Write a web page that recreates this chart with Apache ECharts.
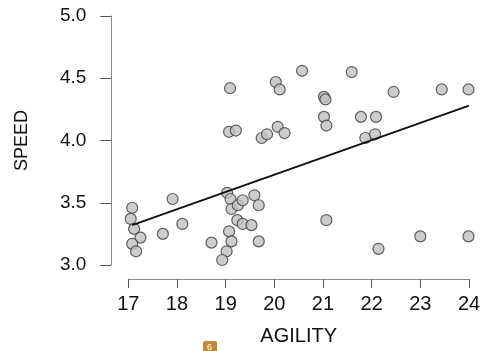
<!DOCTYPE html>
<html><head><meta charset="utf-8">
<script src="https://cdn.jsdelivr.net/npm/echarts@6/dist/echarts.min.js"></script>
<style>html,body{margin:0;padding:0;background:#fff}#c{width:484px;height:351px}</style>
</head><body><div id="c"></div>
<script>
const agility = [17.08,17.05,17.12,17.25,17.08,17.16,17.91,18.11,17.71,18.71,19.02,18.93,19.07,19.12,19.03,19.10,19.12,19.24,19.25,19.59,19.35,19.68,19.35,19.53,19.68,21.07,22.14,23.00,23.99,19.09,20.03,20.11,20.57,21.02,21.05,21.02,21.07,19.07,19.21,19.74,19.85,20.07,20.21,21.59,22.45,23.44,23.99,21.78,22.09,21.87,22.07];
const speed   = [3.46,3.37,3.29,3.22,3.17,3.11,3.53,3.33,3.25,3.18,3.11,3.04,3.27,3.19,3.58,3.53,3.45,3.36,3.48,3.56,3.52,3.48,3.33,3.32,3.19,3.36,3.13,3.23,3.23,4.42,4.47,4.41,4.56,4.35,4.33,4.19,4.12,4.07,4.08,4.02,4.05,4.11,4.06,4.55,4.39,4.41,4.41,4.19,4.19,4.02,4.05];
const fitX = [17.08, 24.0];
const fitY = [3.32, 4.28];
const xTicks = [17,18,19,20,21,22,23,24];
const yTicks = [3.0,3.5,4.0,4.5,5.0];

const points = agility.map((a,i)=>[a, speed[i]]);
const fitLine = fitX.map((x,i)=>[x, fitY[i]]);
const font = 'Liberation Sans, Arial, Helvetica, sans-serif';

const chart = echarts.init(document.getElementById('c'), null, {renderer:'canvas'});
chart.setOption({
  animation:false,
  backgroundColor:'#fff',
  grid:{left:128.3, right:15, top:16, bottom:78, containLabel:false},
  xAxis:{
    type:'value', min:xTicks[0], max:xTicks[xTicks.length-1], interval:1,
    offset:14,
    name:'AGILITY', nameLocation:'middle', nameGap:47,
    nameTextStyle:{fontFamily:font, fontSize:20, color:'#111'},
    axisLine:{show:true, lineStyle:{color:'#8a8a8a', width:1}},
    axisTick:{show:true, length:9, lineStyle:{color:'#555', width:1}},
    axisLabel:{margin:15, fontFamily:font, fontSize:20, color:'#111',
      formatter:v=>String(v)},
    splitLine:{show:false}
  },
  yAxis:{
    type:'value', min:yTicks[0], max:yTicks[yTicks.length-1], interval:0.5,
    offset:17,
    name:'SPEED', nameLocation:'middle', nameGap:80, nameRotate:90,
    nameTextStyle:{fontFamily:font, fontSize:18, color:'#111'},
    axisLine:{show:true, lineStyle:{color:'#8a8a8a', width:1}},
    axisTick:{show:true, length:11, lineStyle:{color:'#555', width:1}},
    axisLabel:{margin:25, fontFamily:font, fontSize:19, color:'#111',
      formatter:v=>v.toFixed(1)},
    splitLine:{show:false}
  },
  series:[
    {type:'scatter', data:points, symbol:'circle', symbolSize:11, clip:false,
     itemStyle:{color:'#c0c0c0', borderColor:'#3c3c3c', borderWidth:1.2}, z:3},
    {type:'line', data:fitLine, symbol:'none', clip:false,
     lineStyle:{color:'#111', width:2}, z:4}
  ],
  graphic:[
    {type:'rect', left:203, top:341, shape:{width:14, height:12, r:2}, style:{fill:'#c28a33'}},
    {type:'text', left:207, top:343, style:{text:'6', fill:'#fff', fontSize:9, fontFamily:font}}
  ]
});
</script></body></html>
